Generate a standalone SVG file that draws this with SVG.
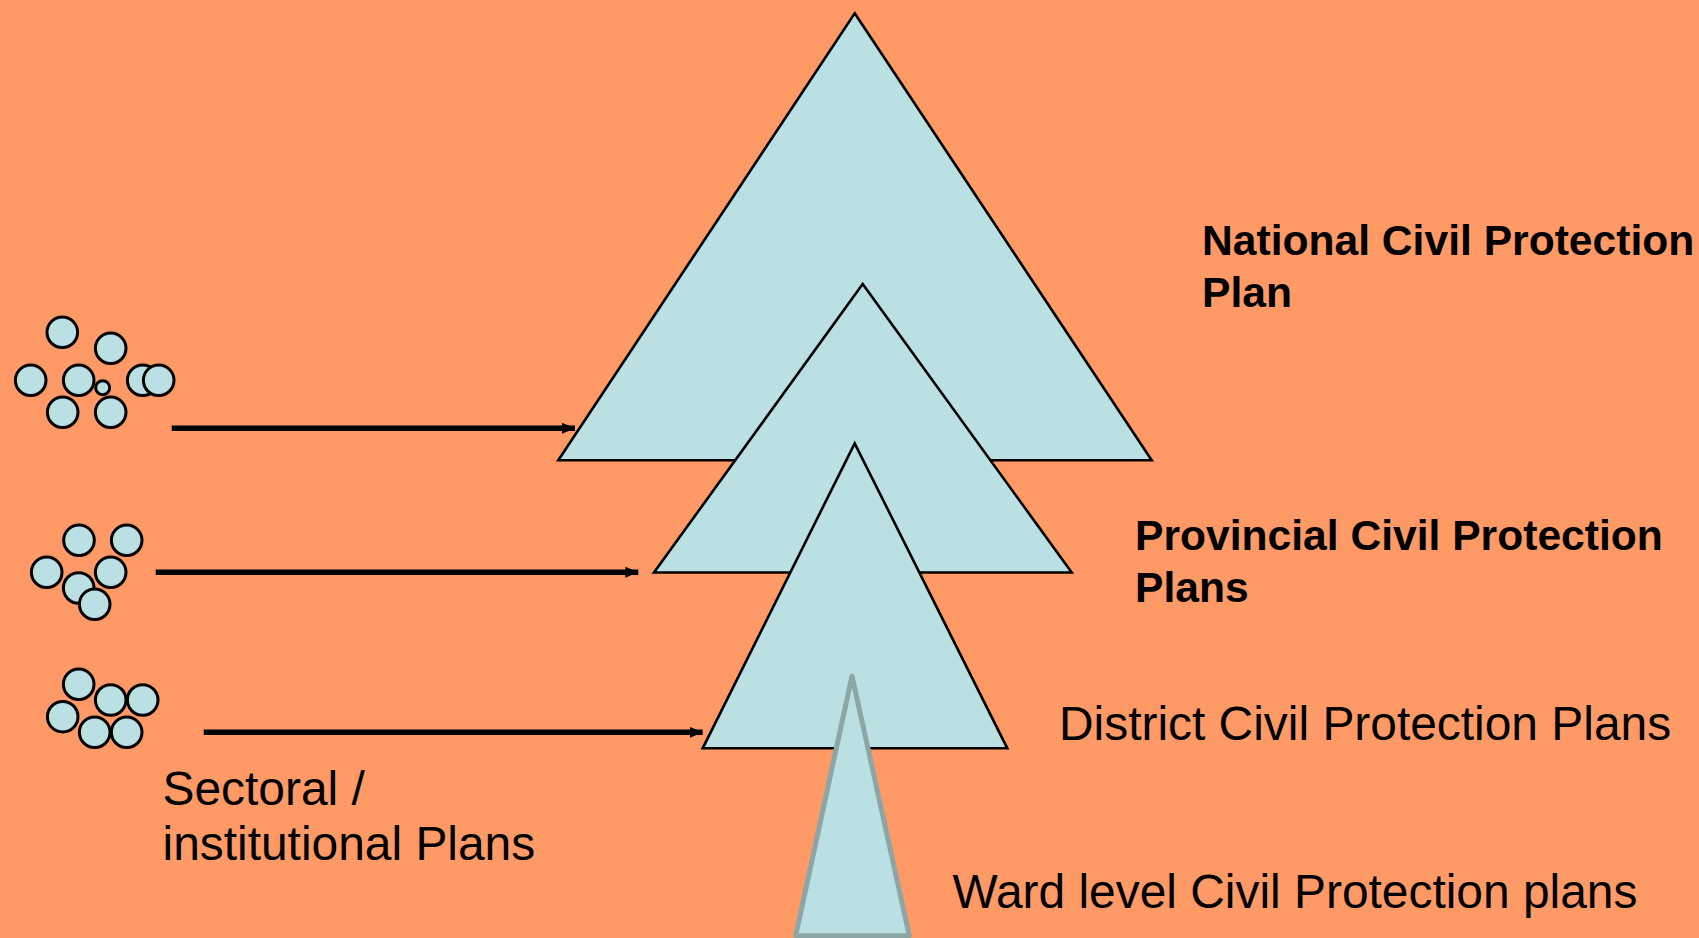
<svg xmlns="http://www.w3.org/2000/svg" width="1699" height="938" viewBox="0 0 1699 938">
  <defs>
    <style>
      .tri { fill: #BBE0E3; stroke: #000; stroke-width: 2.6; stroke-linejoin: miter; }
      .ward { fill: #BBE0E3; stroke: #8CA6A6; stroke-width: 5; stroke-linejoin: round; }
      .dot { fill: #BBE0E3; stroke: #000; stroke-width: 3; }
      .link { stroke: #000; stroke-width: 5.5; fill: none; marker-end: url(#head); }
      .bold { font-family: "Liberation Sans", Arial, sans-serif; font-weight: bold; font-size: 42.6px; fill: #000; }
      .plain { font-family: "Liberation Sans", Arial, sans-serif; font-size: 47.9px; fill: #000; }
    </style>
    <marker id="head" markerUnits="userSpaceOnUse" markerWidth="14" markerHeight="12" refX="13" refY="6" orient="auto">
      <path d="M0,0.5 L13,6 L0,11.5 Z" fill="#000"/>
    </marker>
  </defs>

  <rect x="0" y="0" width="1699" height="938" fill="#FF9966"/>

  <!-- plan hierarchy triangles, drawn back to front -->
  <g id="national-plan">
    <polygon class="tri" points="854.7,13.3 1151.7,460.3 558.3,460.3"/>
    <text class="bold" x="1202" y="255">National Civil Protection</text>
    <text class="bold" x="1202" y="306.7">Plan</text>
  </g>

  <g id="provincial-plans">
    <polygon class="tri" points="862.7,284 1071.7,572.5 654,572.5"/>
    <text class="bold" x="1135" y="550">Provincial Civil Protection</text>
    <text class="bold" x="1135" y="602">Plans</text>
  </g>

  <g id="district-plans">
    <polygon class="tri" points="854.7,443.3 1007.3,748.3 702.7,748.3"/>
    <text class="plain" x="1059" y="740">District Civil Protection Plans</text>
  </g>

  <g id="ward-plans">
    <polygon class="ward" points="852,676 909.3,935.7 795.7,935.7"/>
    <text class="plain" x="952.5" y="908">Ward level Civil Protection plans</text>
  </g>

  <!-- sectoral / institutional plan clusters -->
  <g id="sectoral-cluster-top">
    <circle class="dot" cx="62.3" cy="332.3" r="15.3"/>
    <circle class="dot" cx="110.7" cy="348.3" r="15.3"/>
    <circle class="dot" cx="30.7" cy="380.3" r="15.3"/>
    <circle class="dot" cx="78.7" cy="380.3" r="15.3"/>
    <circle class="dot" cx="102.7" cy="387.7" r="7"/>
    <circle class="dot" cx="142.7" cy="380.3" r="15.3"/>
    <circle class="dot" cx="158.7" cy="380.3" r="15.3"/>
    <circle class="dot" cx="62.7" cy="412.3" r="15.3"/>
    <circle class="dot" cx="110.7" cy="412.3" r="15.3"/>
  </g>

  <g id="sectoral-cluster-middle">
    <circle class="dot" cx="79" cy="540.3" r="15.3"/>
    <circle class="dot" cx="126.7" cy="540.3" r="15.3"/>
    <circle class="dot" cx="46.7" cy="572.3" r="15.3"/>
    <circle class="dot" cx="110.7" cy="572.3" r="15.3"/>
    <circle class="dot" cx="78.7" cy="588" r="15.3"/>
    <circle class="dot" cx="94.7" cy="604.3" r="15.3"/>
  </g>

  <g id="sectoral-cluster-bottom">
    <circle class="dot" cx="78.7" cy="684.3" r="15.3"/>
    <circle class="dot" cx="110.7" cy="700" r="15.3"/>
    <circle class="dot" cx="142.7" cy="700" r="15.3"/>
    <circle class="dot" cx="62.7" cy="716.7" r="15.3"/>
    <circle class="dot" cx="94.7" cy="732.3" r="15.3"/>
    <circle class="dot" cx="126.7" cy="732.3" r="15.3"/>
    <text class="plain" x="162.5" y="805">Sectoral /</text>
    <text class="plain" x="162.5" y="860">institutional Plans</text>
  </g>

  <!-- arrows feeding each level -->
  <g id="connectors">
    <line class="link" x1="171.7" y1="428.3" x2="575" y2="428.3"/>
    <line class="link" x1="155.7" y1="572.3" x2="638.3" y2="572.3"/>
    <line class="link" x1="203.7" y1="732.3" x2="702.7" y2="732.3"/>
  </g>
</svg>
